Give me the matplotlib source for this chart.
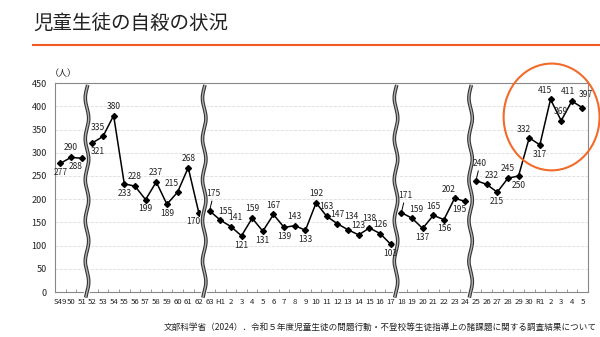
import numpy as np
import matplotlib.pyplot as plt
from matplotlib.patches import Ellipse

plt.rcParams['font.family'] = ['Noto Sans CJK JP', 'DejaVu Sans']

# 年度ラベル
years = ['S49', '50', '51', '52', '53', '54', '55', '56', '57', '58', '59', '60', '61', '62',
         '63', 'H1'] + [str(i) for i in range(2, 31)] + ['R1', '2', '3', '4', '5']

# 自殺者数（人）
counts = [277, 290, 288,
          321, 335, 380, 233, 228, 199, 237, 189, 215, 268, 170,
          175, 155, 141, 121, 159, 131, 167, 139, 143, 133, 192, 163, 147, 134, 123, 138, 126, 103,
          171, 159, 137, 165, 156, 202, 195,
          240, 232, 215, 245, 250, 332, 317, 415, 369, 411, 397]

# 波線（省略）で区切られた区間
segments = [(0, 3), (3, 14), (14, 32), (32, 39), (39, 50)]

# ラベルの位置（a=上, b=下, ar=右上, al=左上, bl=左下, br=右下, L=引き出し線つき）
label_pos = ['b', 'a', 'bl',
             'br', 'al', 'a', 'b', 'a', 'b', 'a', 'b', 'al', 'a', 'bl',
             'L', 'ar', 'ar', 'b', 'a', 'b', 'a', 'b', 'a', 'b', 'a', 'a', 'a', 'ah', 'a', 'a', 'a', 'b',
             'L', 'ar', 'b', 'a', 'b', 'al', 'bl',
             'L', 'ar', 'b', 'a', 'b', 'al', 'b', 'al', 'a', 'as', 'aa']

offsets = {'a': ((0, 3.5), 'bottom'),
           'as': ((-2.5, 3.5), 'bottom'),
           'aa': ((2.5, 6), 'bottom'),
           'ah': ((2.5, 6), 'bottom'),
           'b': ((0, -3.5), 'top'),
           'ar': ((3.5, 3), 'bottom'),
           'al': ((-4, 3), 'bottom'),
           'bl': ((-4, -2.5), 'top'),
           'br': ((4, -3), 'top'),
           'L': ((3, 9), 'bottom')}

x = np.arange(len(years))

fig = plt.figure(figsize=(6, 3.37), dpi=100)
ax = fig.add_axes([0.0917, 0.1335, 0.888, 0.620])

for s, e in segments:
    ax.plot(x[s:e], counts[s:e], color='black', lw=1.1, marker='D', markersize=3, zorder=3)

for i, (v, p) in enumerate(zip(counts, label_pos)):
    off, va = offsets[p]
    arrow = dict(arrowstyle='-', lw=0.7, color='black', shrinkA=0, shrinkB=1) if p == 'L' else None
    ax.annotate(str(v), (x[i], v), xytext=off, textcoords='offset points',
                ha='center', va=va, fontsize=6.1, color='#222222', zorder=10,
                arrowprops=arrow)

# 波線
ys = np.linspace(-12, 446, 200)
for s, e in segments[1:]:
    xb = s - 0.5 + 0.16 * np.sin(ys / 14.0)
    ax.plot(xb, ys, color='white', lw=4, clip_on=False, zorder=5, solid_capstyle='butt')
    ax.plot(xb, ys, color='#333333', lw=2.6, clip_on=False, zorder=6, solid_capstyle='butt')
    ax.plot(xb, ys, color='#b0b0b0', lw=1.0, clip_on=False, zorder=7, solid_capstyle='butt')

ax.set_xlim(-0.5, len(years) - 0.5)
ax.set_ylim(0, 450)
ax.set_yticks(np.arange(0, 451, 50))
ax.set_xticks(x)
ax.set_xticklabels(years, fontsize=5.6, color='#222222')
ax.set_xticks(np.arange(0.5, len(years) - 1, 1), minor=True)
ax.tick_params(axis='x', which='major', length=0, pad=4)
ax.tick_params(axis='x', which='minor', length=2.5, direction='in', color='#888888')
ax.tick_params(axis='y', length=0, labelsize=6.5, pad=6, labelcolor='#222222')
ax.grid(axis='y', color='#dddddd', ls='--', lw=0.6)
ax.set_axisbelow(True)
for sp in ax.spines.values():
    sp.set_color('#888888')
    sp.set_linewidth(0.8)

# 強調の円
ax.add_patch(Ellipse((46.1, 377), 9.0, 230, fill=False, edgecolor='#f26b2a', lw=1.5,
                     clip_on=False, zorder=8))

fig.text(0.105, 0.783, '（人）', fontsize=6.5, ha='center', va='center', color='#222222')
fig.text(0.055, 0.932, '児童生徒の自殺の状況', fontsize=14, ha='left', va='center', color='#222222')
fig.add_artist(plt.Line2D([0.055, 1.0], [0.866, 0.866], color='#f05a23', lw=1.5))
fig.text(0.995, 0.03, '文部科学省（2024）．令和５年度児童生徒の問題行動・不登校等生徒指導上の諸課題に関する調査結果について',
         fontsize=6.2, ha='right', va='center', color='#222222')

fig.savefig('out.png', dpi=100)
